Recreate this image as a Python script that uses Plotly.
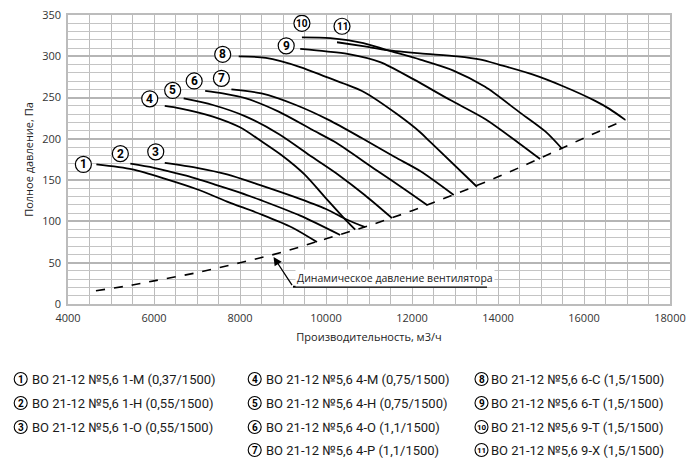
import plotly.graph_objects as go

# Flow (m3/h) and total pressure (Pa) for each fan
q1 = [4660, 5500, 6300, 7000, 7700, 8470, 9200, 9790]
p1 = [169, 163, 151, 139, 124, 109, 93, 75]
q2 = [5450, 6000, 6700, 7400, 8000, 8470, 9400, 10330]
p2 = [170, 165, 156, 145, 135, 126, 107, 83.5]
q3 = [6250, 7000, 7700, 8470, 9250, 10000, 10490, 10910]
p3 = [171, 165, 157, 144, 130, 115, 102, 93]
q4 = [6250, 6600, 7370, 8000, 8500, 9000, 9500, 10000, 10490, 10680]
p4 = [240, 237, 227, 214, 197, 179, 157, 128, 100, 90]
q5 = [6690, 7370, 8140, 8900, 9680, 10300, 10900, 11535]
p5 = [249, 241, 227, 206, 178, 156, 132, 104]
q6 = [7190, 7600, 8140, 8900, 9680, 10180, 10450, 11200, 11800, 12350]
p6 = [258, 255, 249, 233, 211, 197, 188, 161, 140, 120]
q7 = [7800, 8500, 9300, 10060, 10830, 11600, 12190, 12970]
p7 = [260, 255, 241, 223, 201, 178, 161, 132]
q8 = [7970, 8600, 9400, 10000, 10870, 11650, 12190, 12430, 13510]
p8 = [300, 298, 287, 275, 257, 230, 208, 196, 142]
q9 = [9400, 10000, 10500, 11260, 12040, 12890, 13700, 14480, 14980]
p9 = [309, 306, 303, 293, 272, 247, 224, 195, 175.5]
q10 = [9440, 10100, 10870, 11420, 12190, 12950, 13700, 14480, 15100, 15490]
p10 = [323, 322, 316, 307.5, 296, 283, 263, 233, 209, 188]
q11 = [10256, 10900, 11420, 12190, 13050, 13600, 14020, 14800, 15500, 16260, 16600, 16960]
p11 = [317, 312, 307.5, 303.5, 300, 296, 290, 278, 264, 246, 236, 223]

# dynamic pressure of the fan (dashed line)
q_dyn = [4650, 5500, 6000, 7000, 8000, 9000, 10000, 11000, 12000, 13000, 14000, 15000, 16000, 16960]
p_dyn = [16, 23, 28, 38, 50, 63, 79, 95, 113, 133, 154, 177, 201, 223]

curves = [(q1, p1), (q2, p2), (q3, p3), (q4, p4), (q5, p5), (q6, p6),
          (q7, p7), (q8, p8), (q9, p9), (q10, p10), (q11, p11)]

names = ["ВО 21-12 №5,6 1-М (0,37/1500)", "ВО 21-12 №5,6 1-Н (0,55/1500)",
         "ВО 21-12 №5,6 1-О (0,55/1500)", "ВО 21-12 №5,6 4-М (0,75/1500)",
         "ВО 21-12 №5,6 4-Н (0,75/1500)", "ВО 21-12 №5,6 4-О (1,1/1500)",
         "ВО 21-12 №5,6 4-Р (1,1/1500)", "ВО 21-12 №5,6 6-С (1,5/1500)",
         "ВО 21-12 №5,6 6-Т (1,5/1500)", "ВО 21-12 №5,6 9-Т (1,5/1500)",
         "ВО 21-12 №5,6 9-Х (1,5/1500)"]

# pixel offset of the number circle from the start of each curve
label_dx = [-13, -10, -9, -15, -11, -11, -10, -16, -14, 0, 5]
label_dy = [0, 10, 11, 7, 8, 10, 11, 2, 3, 14, 16]

fig = go.Figure()

for q, p in curves:
    fig.add_trace(go.Scatter(x=q, y=p, mode="lines",
                             line=dict(color="black", width=1.8, shape="spline", smoothing=0.8),
                             showlegend=False, hoverinfo="skip"))

fig.add_trace(go.Scatter(x=q_dyn, y=p_dyn, mode="lines",
                         line=dict(color="black", width=1.6, dash="dash", shape="spline"),
                         showlegend=False, hoverinfo="skip"))

shapes = []
annotations = []

# numbered circles on the chart
for i, (q, p) in enumerate(curves):
    r = 8
    shapes.append(dict(type="circle", xref="x", yref="y", xsizemode="pixel", ysizemode="pixel",
                       xanchor=q[0], yanchor=p[0],
                       x0=label_dx[i] - r, x1=label_dx[i] + r,
                       y0=label_dy[i] - r, y1=label_dy[i] + r,
                       line=dict(color="black", width=1.2), fillcolor="white", layer="above"))
    annotations.append(dict(x=q[0], y=p[0], xref="x", yref="y", text="<b>%d</b>" % (i + 1),
                            showarrow=False, xshift=label_dx[i], yshift=label_dy[i],
                            xanchor="center", yanchor="middle",
                            font=dict(family="Roboto", size=12 if i < 9 else 10, color="black")))

# legend under the chart (pixel positions relative to the window)
cols = [(20.7, 30), (254.7, 264), (481.5, 489)]
rows = [379, 403, 427, 450]
groups = [[0, 1, 2], [3, 4, 5, 6], [7, 8, 9, 10]]
for c, idx in enumerate(groups):
    for r_i, k in enumerate(idx):
        cx = (cols[c][0] - 68) / 602
        tx = (cols[c][1] - 68) / 602
        py = (304 - rows[r_i]) / 289
        shapes.append(dict(type="circle", xref="paper", yref="paper", xsizemode="pixel",
                           ysizemode="pixel", xanchor=cx, yanchor=py, x0=-6.5, x1=6.5, y0=-6.5, y1=6.5,
                           line=dict(color="black", width=1.1), fillcolor="white"))
        annotations.append(dict(x=cx, y=py, xref="paper", yref="paper", text="<b>%d</b>" % (k + 1),
                                showarrow=False, xanchor="center", yanchor="middle",
                                font=dict(family="Roboto", size=10 if k < 9 else 8, color="black")))
        annotations.append(dict(x=tx, y=py, xref="paper", yref="paper", text=names[k],
                                showarrow=False, xanchor="left", yanchor="middle",
                                font=dict(family="Roboto", size=13, color="#1a1a1a")))

# dynamic pressure callout
shapes.append(dict(type="line", xref="x", yref="y", x0=9233, x1=13744, y0=21, y1=21,
                   line=dict(color="black", width=2)))
annotations.append(dict(x=8780, y=57, xref="x", yref="y", ax=9233, ay=21, axref="x", ayref="y",
                        text="", showarrow=True, arrowhead=2, arrowsize=1.3, arrowwidth=1.3,
                        arrowcolor="black"))
annotations.append(dict(x=11614, y=31.5, xref="x", yref="y", text="Динамическое давление вентилятора",
                        showarrow=False, bgcolor="white",
                        font=dict(family="Open Sans", size=10.5, color="#222")))

# the page body has an 8px margin, so the figure is 8px smaller and shifted
fig.update_layout(
    width=692, height=460,
    margin=dict(l=60, r=30, t=7, b=164),
    plot_bgcolor="white", paper_bgcolor="white",
    font=dict(family="Open Sans", size=11, color="#333"),
    shapes=shapes, annotations=annotations,
    xaxis=dict(range=[4000, 18000], tick0=4000, dtick=2000, tickformat="d", showgrid=True,
               gridcolor="#bcbcbc", gridwidth=1.3, automargin=False, ticklabelstandoff=3,
               ticklabeloverflow="allow",
               minor=dict(dtick=500, showgrid=True, gridcolor="#bcbcbc", gridwidth=1.3),
               showline=True, linecolor="#bcbcbc", linewidth=1.5, mirror=True,
               ticks="", zeroline=False,
               title=dict(text="Производительность, м3/ч", standoff=9,
                          font=dict(size=11, color="#222"))),
    yaxis=dict(range=[0, 350], dtick=50, showgrid=True, gridcolor="#b5b5b5", gridwidth=2,
               automargin=False, ticklabelstandoff=3, ticklabeloverflow="allow",
               minor=dict(dtick=10, showgrid=True, gridcolor="#c4c4c4", gridwidth=1),
               showline=True, linecolor="#bcbcbc", linewidth=1.5, mirror=True,
               ticks="", zeroline=False,
               title=dict(text="Полное давление, Па", standoff=6,
                          font=dict(size=11, color="#222"))),
)

fig.write_html("out.html")
